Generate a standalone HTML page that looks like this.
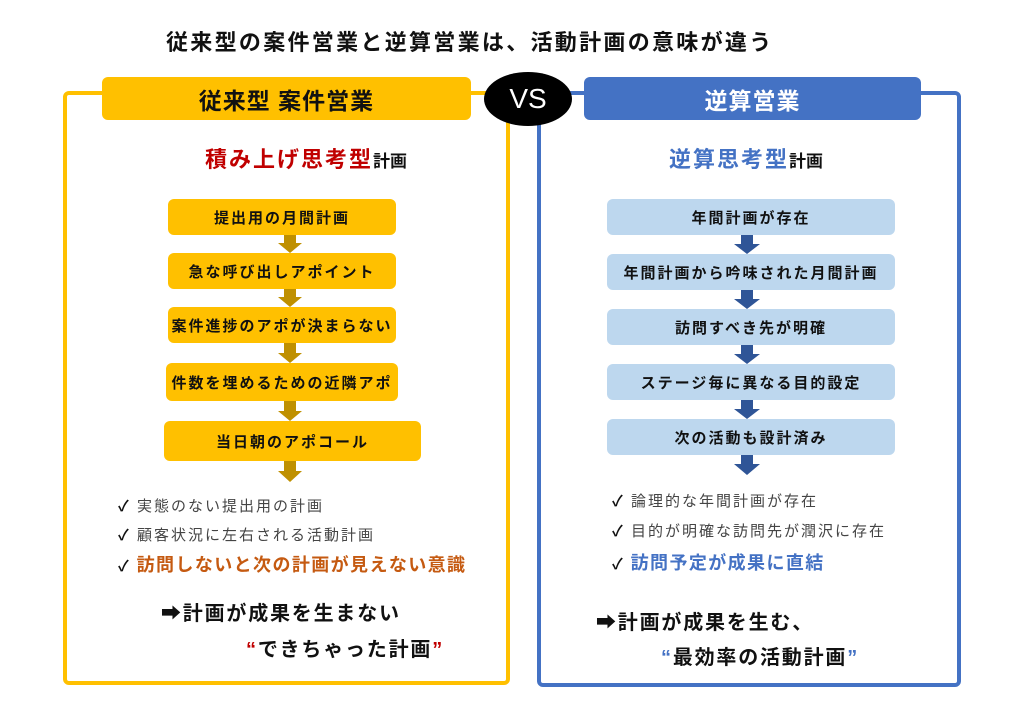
<!DOCTYPE html>
<html><head><meta charset="utf-8"><style>
body{margin:0;width:1024px;height:724px;background:#fff;position:relative;overflow:hidden;font-family:"Liberation Sans","Noto Sans CJK JP",sans-serif;}
.a{position:absolute;white-space:nowrap;}
.frame{position:absolute;border-radius:6px;box-sizing:border-box;}
.box{position:absolute;border-radius:6px;display:flex;align-items:center;justify-content:center;font-weight:bold;font-size:15px;letter-spacing:2px;color:#111;}
.y{background:#FFC000}.b{background:#BDD7EE}
.ck{font-size:15px;color:#444;letter-spacing:2px;}
</style></head><body>
<div class="a" style="left:166px;top:25px;font-size:22px;font-weight:bold;color:#111;letter-spacing:2.3px;">従来型の案件営業と逆算営業は、活動計画の意味が違う</div>

<div class="frame" style="left:63px;top:91px;width:447px;height:594px;border:4px solid #FFC000;"></div>
<div class="frame" style="left:537px;top:91px;width:424px;height:596px;border:4px solid #4472C4;"></div>

<div class="box y" style="left:102px;top:77px;width:369px;height:43px;font-size:23px;letter-spacing:1px;">従来型 案件営業</div>
<div class="box" style="left:584px;top:77px;width:337px;height:43px;font-size:23px;background:#4472C4;color:#fff;letter-spacing:1px;">逆算営業</div>
<div class="a" style="left:484px;top:72px;width:88px;height:54px;border-radius:50%;background:#000;color:#fff;font-size:28px;display:flex;align-items:center;justify-content:center;">VS</div>

<div class="a" style="left:205px;top:142px;font-size:22px;font-weight:bold;color:#C00000;letter-spacing:2px;">積み上げ思考型<span style="color:#111;font-size:17px;letter-spacing:0">計画</span></div>
<div class="a" style="left:669px;top:142px;font-size:22px;font-weight:bold;color:#4472C4;letter-spacing:2px;">逆算思考型<span style="color:#111;font-size:17px;letter-spacing:0">計画</span></div>

<div class="box y" style="left:168px;top:199px;width:228px;height:36px;">提出用の月間計画</div>
<div class="box y" style="left:168px;top:253px;width:228px;height:36px;">急な呼び出しアポイント</div>
<div class="box y" style="left:168px;top:307px;width:228px;height:36px;">案件進捗のアポが決まらない</div>
<div class="box y" style="left:166px;top:363px;width:232px;height:38px;">件数を埋めるための近隣アポ</div>
<div class="box y" style="left:164px;top:421px;width:257px;height:40px;">当日朝のアポコール</div>

<svg class="a" style="left:0;top:0" width="1024" height="724">
<g fill="#BF9000">
<polygon points="284,235 296,235 296,243 302,243 290,253 278,243 284,243"/>
<polygon points="284,289 296,289 296,297 302,297 290,307 278,297 284,297"/>
<polygon points="284,343 296,343 296,353 302,353 290,363 278,353 284,353"/>
<polygon points="284,401 296,401 296,411 302,411 290,421 278,411 284,411"/>
<polygon points="284,461 296,461 296,471 302,471 290,482 278,471 284,471"/>
</g>
<g fill="#2F5597">
<polygon points="741,235 753,235 753,244 760,244 747,254 734,244 741,244"/>
<polygon points="741,290 753,290 753,299 760,299 747,309 734,299 741,299"/>
<polygon points="741,345 753,345 753,354 760,354 747,364 734,354 741,354"/>
<polygon points="741,400 753,400 753,409 760,409 747,419 734,409 741,409"/>
<polygon points="741,455 753,455 753,464 760,464 747,475 734,464 741,464"/>
</g>
</svg>

<div class="box b" style="left:607px;top:199px;width:288px;height:36px;">年間計画が存在</div>
<div class="box b" style="left:607px;top:254px;width:288px;height:36px;">年間計画から吟味された月間計画</div>
<div class="box b" style="left:607px;top:309px;width:288px;height:36px;">訪問すべき先が明確</div>
<div class="box b" style="left:607px;top:364px;width:288px;height:36px;">ステージ毎に異なる目的設定</div>
<div class="box b" style="left:607px;top:419px;width:288px;height:36px;">次の活動も設計済み</div>

<div class="a ck" style="left:118px;top:495px;"><b style="color:#111">✓</b> 実態のない提出用の計画</div>
<div class="a ck" style="left:118px;top:524px;"><b style="color:#111">✓</b> 顧客状況に左右される活動計画</div>
<div class="a" style="left:118px;top:551px;font-size:18px;font-weight:bold;color:#C55A11;letter-spacing:1.4px;"><span style="color:#111;font-size:15px">✓</span> 訪問しないと次の計画が見えない意識</div>

<div class="a ck" style="left:612px;top:490px;"><b style="color:#111">✓</b> 論理的な年間計画が存在</div>
<div class="a ck" style="left:612px;top:520px;"><b style="color:#111">✓</b> 目的が明確な訪問先が潤沢に存在</div>
<div class="a" style="left:612px;top:549px;font-size:18px;font-weight:bold;color:#4472C4;letter-spacing:1.4px;"><span style="color:#111;font-size:15px">✓</span> 訪問予定が成果に直結</div>

<div class="a" style="left:161px;top:597px;font-size:20px;font-weight:bold;color:#111;letter-spacing:1.8px;">➡計画が成果を生まない</div>
<div class="a" style="left:246px;top:633px;font-size:20px;font-weight:bold;color:#111;letter-spacing:1.8px;"><span style="color:#C00000">“</span>できちゃった計画<span style="color:#C00000">”</span></div>
<div class="a" style="left:596px;top:606px;font-size:20px;font-weight:bold;color:#111;letter-spacing:1.8px;">➡計画が成果を生む、</div>
<div class="a" style="left:661px;top:641px;font-size:20px;font-weight:bold;color:#111;letter-spacing:1.8px;"><span style="color:#4472C4">“</span>最効率の活動計画<span style="color:#4472C4">”</span></div>
</body></html>
